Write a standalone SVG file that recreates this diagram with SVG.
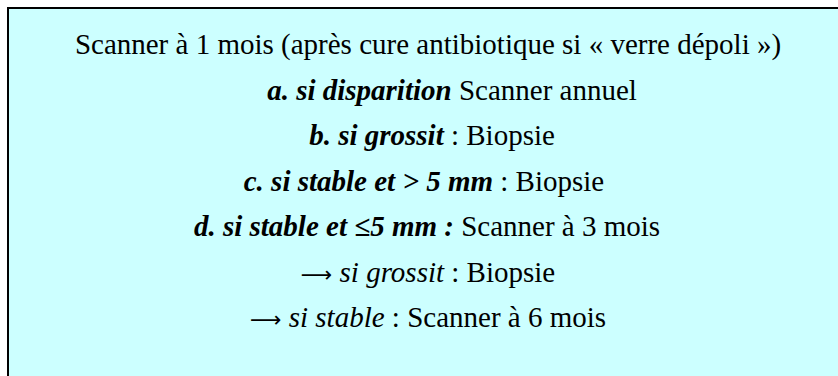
<svg xmlns="http://www.w3.org/2000/svg" width="838" height="376" viewBox="0 0 838 376">
<style>
text{font-family:'Liberation Serif','Times New Roman',Tinos,'DejaVu Serif',serif;font-size:29px;fill:#000;text-anchor:middle}
.bi{font-weight:bold;font-style:italic}
.i{font-style:italic}
.ar{font-family:'DejaVu Sans',sans-serif;font-size:22px;font-weight:normal}
</style>
<rect x="0" y="0" width="838" height="376" fill="#ffffff"/>
<g id="box">
<rect x="8" y="8" width="840" height="380" fill="#ccffff" stroke="#000" stroke-width="2"/>
</g>
<g id="text">
<text x="428" y="54">Scanner à 1 mois (après cure antibiotique si « verre dépoli »)</text>
<text x="452" y="100"><tspan class="bi">a. si disparition</tspan> Scanner annuel</text>
<text x="432" y="145"><tspan class="bi">b. si grossit</tspan> : Biopsie</text>
<text x="424" y="191"><tspan class="bi">c. si stable et &gt; 5 mm</tspan> : Biopsie</text>
<text x="427" y="236"><tspan class="bi">d. si stable et ≤5 mm :</tspan> Scanner à 3 mois</text>
<text x="428" y="282"><tspan class="ar">⟶</tspan> <tspan class="i">si grossit</tspan> : Biopsie</text>
<text x="428" y="327"><tspan class="ar">⟶</tspan> <tspan class="i">si stable</tspan> : Scanner à 6 mois</text>
</g>
</svg>
